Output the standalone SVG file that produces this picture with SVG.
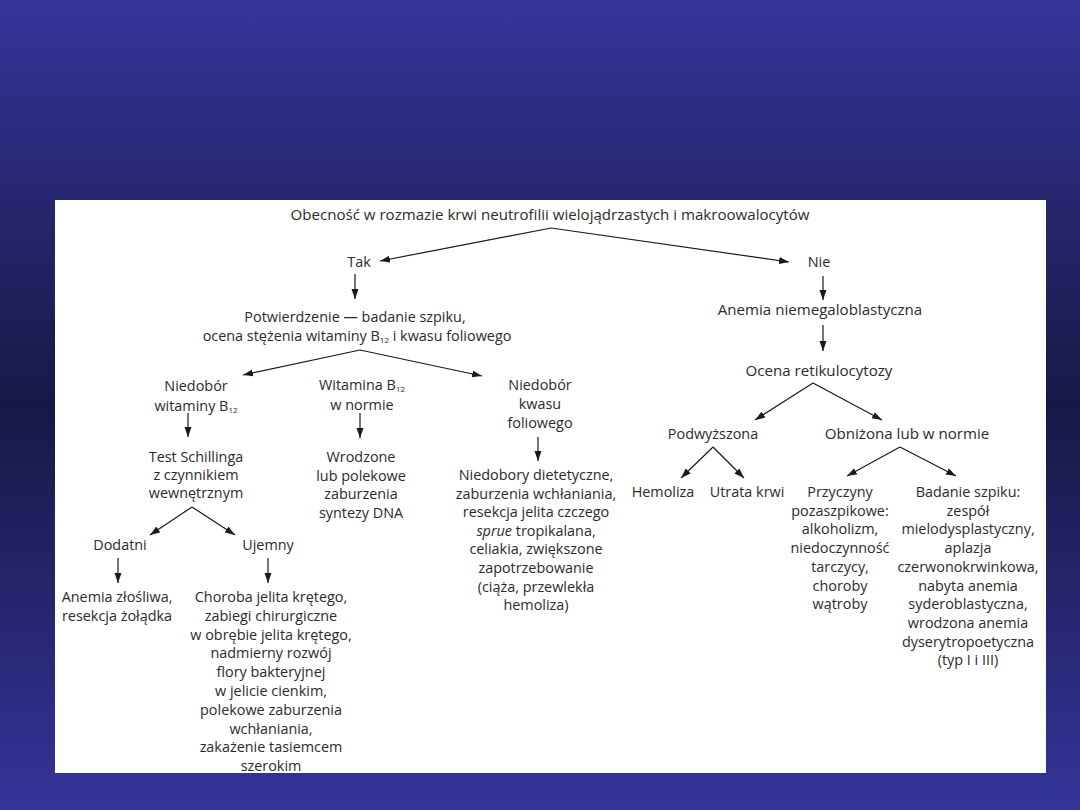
<svg xmlns="http://www.w3.org/2000/svg" width="1080" height="810" viewBox="0 0 1080 810">
<defs>
<linearGradient id="bg" x1="0" y1="0" x2="0" y2="1">
<stop offset="0" stop-color="#35359B"/>
<stop offset="0.25" stop-color="#26266F"/>
<stop offset="0.5" stop-color="#181846"/>
<stop offset="0.75" stop-color="#26266F"/>
<stop offset="1" stop-color="#34349A"/>
</linearGradient>
<marker id="ah" markerUnits="userSpaceOnUse" markerWidth="11" markerHeight="8" refX="10" refY="4" orient="auto">
<path d="M0,0.5 L10,4 L0,7.5 z" fill="#1a1a1a"/>
</marker>
<style>
text{font-family:"Open Sans","Noto Sans","Liberation Sans",sans-serif;font-size:14.4px;fill:#2b2b2b;text-anchor:middle}
.big{font-size:15.1px}
.sub{font-size:8px}
.it{font-style:italic}
#connectors line{stroke:#1a1a1a;stroke-width:1.2;marker-end:url(#ah)}
</style>
</defs>
<rect x="0" y="0" width="1080" height="810" fill="url(#bg)"/>
<rect x="55" y="200" width="991" height="573" fill="#ffffff"/>

<g id="connectors">
<line x1="551" y1="228" x2="380" y2="261"/>
<line x1="551" y1="228" x2="789" y2="262"/>
<line x1="355" y1="274" x2="355" y2="299"/>
<line x1="823" y1="276" x2="823" y2="300"/>
<line x1="823" y1="325" x2="823" y2="351"/>
<line x1="360" y1="350" x2="243" y2="375"/>
<line x1="360" y1="350" x2="482" y2="376"/>
<line x1="188" y1="413" x2="188" y2="437"/>
<line x1="360" y1="413" x2="360" y2="438"/>
<line x1="538" y1="437" x2="538" y2="461"/>
<line x1="192" y1="507" x2="150" y2="535"/>
<line x1="192" y1="507" x2="235" y2="535"/>
<line x1="118" y1="558" x2="118" y2="583"/>
<line x1="268" y1="558" x2="268" y2="583"/>
<line x1="813" y1="383" x2="755" y2="420"/>
<line x1="813" y1="383" x2="882" y2="420"/>
<line x1="713" y1="447" x2="681" y2="478"/>
<line x1="713" y1="447" x2="744" y2="478"/>
<line x1="900" y1="447" x2="847" y2="476"/>
<line x1="900" y1="447" x2="956" y2="476"/>
</g>

<g id="n-title"><text class="big" x="550" y="220">Obecność w rozmazie krwi neutrofilii wielojądrzastych i makroowalocytów</text></g>
<g id="n-tak"><text x="359" y="267">Tak</text></g>
<g id="n-nie"><text x="819" y="267">Nie</text></g>
<g id="n-potw">
<text x="355" y="322">Potwierdzenie — badanie szpiku,</text>
<text x="357" y="341">ocena stężenia witaminy B<tspan class="sub" dy="2">12</tspan><tspan dy="-2"> i kwasu foliowego</tspan></text>
</g>
<g id="n-anemia"><text class="big" x="820" y="315">Anemia niemegaloblastyczna</text></g>
<g id="n-ocena"><text class="big" x="819" y="376">Ocena retikulocytozy</text></g>
<g id="n-podw"><text x="713" y="439">Podwyższona</text></g>
<g id="n-obniz"><text class="big" x="907" y="439">Obniżona lub w normie</text></g>
<g id="n-hemoliza"><text x="663" y="497">Hemoliza</text></g>
<g id="n-utrata"><text x="747" y="497">Utrata krwi</text></g>
<g id="n-przyczyny">
<text x="840" y="497">Przyczyny</text>
<text x="840" y="515.7">pozaszpikowe:</text>
<text x="840" y="534.4">alkoholizm,</text>
<text x="840" y="553.1">niedoczynność</text>
<text x="840" y="571.8">tarczycy,</text>
<text x="840" y="590.5">choroby</text>
<text x="840" y="609.2">wątroby</text>
</g>
<g id="n-badanie">
<text x="968" y="497">Badanie szpiku:</text>
<text x="968" y="515.7">zespół</text>
<text x="968" y="534.4">mielodysplastyczny,</text>
<text x="968" y="553.1">aplazja</text>
<text x="968" y="571.8">czerwonokrwinkowa,</text>
<text x="968" y="590.5">nabyta anemia</text>
<text x="968" y="609.2">syderoblastyczna,</text>
<text x="968" y="627.9">wrodzona anemia</text>
<text x="968" y="646.6">dyserytropoetyczna</text>
<text x="968" y="665.3">(typ I i III)</text>
</g>
<g id="n-niedob12">
<text x="196" y="391">Niedobór</text>
<text x="196" y="411">witaminy B<tspan class="sub" dy="2">12</tspan></text>
</g>
<g id="n-witb12">
<text x="362" y="390">Witamina B<tspan class="sub" dy="2">12</tspan></text>
<text x="362" y="410">w normie</text>
</g>
<g id="n-niedokw">
<text x="540" y="390">Niedobór</text>
<text x="540" y="409">kwasu</text>
<text x="540" y="428">foliowego</text>
</g>
<g id="n-test">
<text x="196" y="462">Test Schillinga</text>
<text x="196" y="480">z czynnikiem</text>
<text x="196" y="498">wewnętrznym</text>
</g>
<g id="n-wrodzone">
<text x="361" y="462">Wrodzone</text>
<text x="361" y="480.5">lub polekowe</text>
<text x="361" y="499">zaburzenia</text>
<text x="361" y="517.5">syntezy DNA</text>
</g>
<g id="n-niedobory">
<text x="536" y="480">Niedobory dietetyczne,</text>
<text x="536" y="498.6">zaburzenia wchłaniania,</text>
<text x="536" y="517.2">resekcja jelita czczego</text>
<text x="536" y="535.8"><tspan class="it">sprue</tspan> tropikalana,</text>
<text x="536" y="554.4">celiakia, zwiększone</text>
<text x="536" y="573">zapotrzebowanie</text>
<text x="536" y="591.6">(ciąża, przewlekła</text>
<text x="536" y="610.2">hemoliza)</text>
</g>
<g id="n-dodatni"><text x="120" y="550">Dodatni</text></g>
<g id="n-ujemny"><text x="268" y="550">Ujemny</text></g>
<g id="n-anemiazl">
<text x="117" y="602">Anemia złośliwa,</text>
<text x="117" y="621">resekcja żołądka</text>
</g>
<g id="n-choroba">
<text x="271" y="602">Choroba jelita krętego,</text>
<text x="271" y="620.8">zabiegi chirurgiczne</text>
<text x="271" y="639.6">w obrębie jelita krętego,</text>
<text x="271" y="658.4">nadmierny rozwój</text>
<text x="271" y="677.2">flory bakteryjnej</text>
<text x="271" y="696">w jelicie cienkim,</text>
<text x="271" y="714.8">polekowe zaburzenia</text>
<text x="271" y="733.6">wchłaniania,</text>
<text x="271" y="752.4">zakażenie tasiemcem</text>
<text x="271" y="771.2">szerokim</text>
</g>
</svg>
